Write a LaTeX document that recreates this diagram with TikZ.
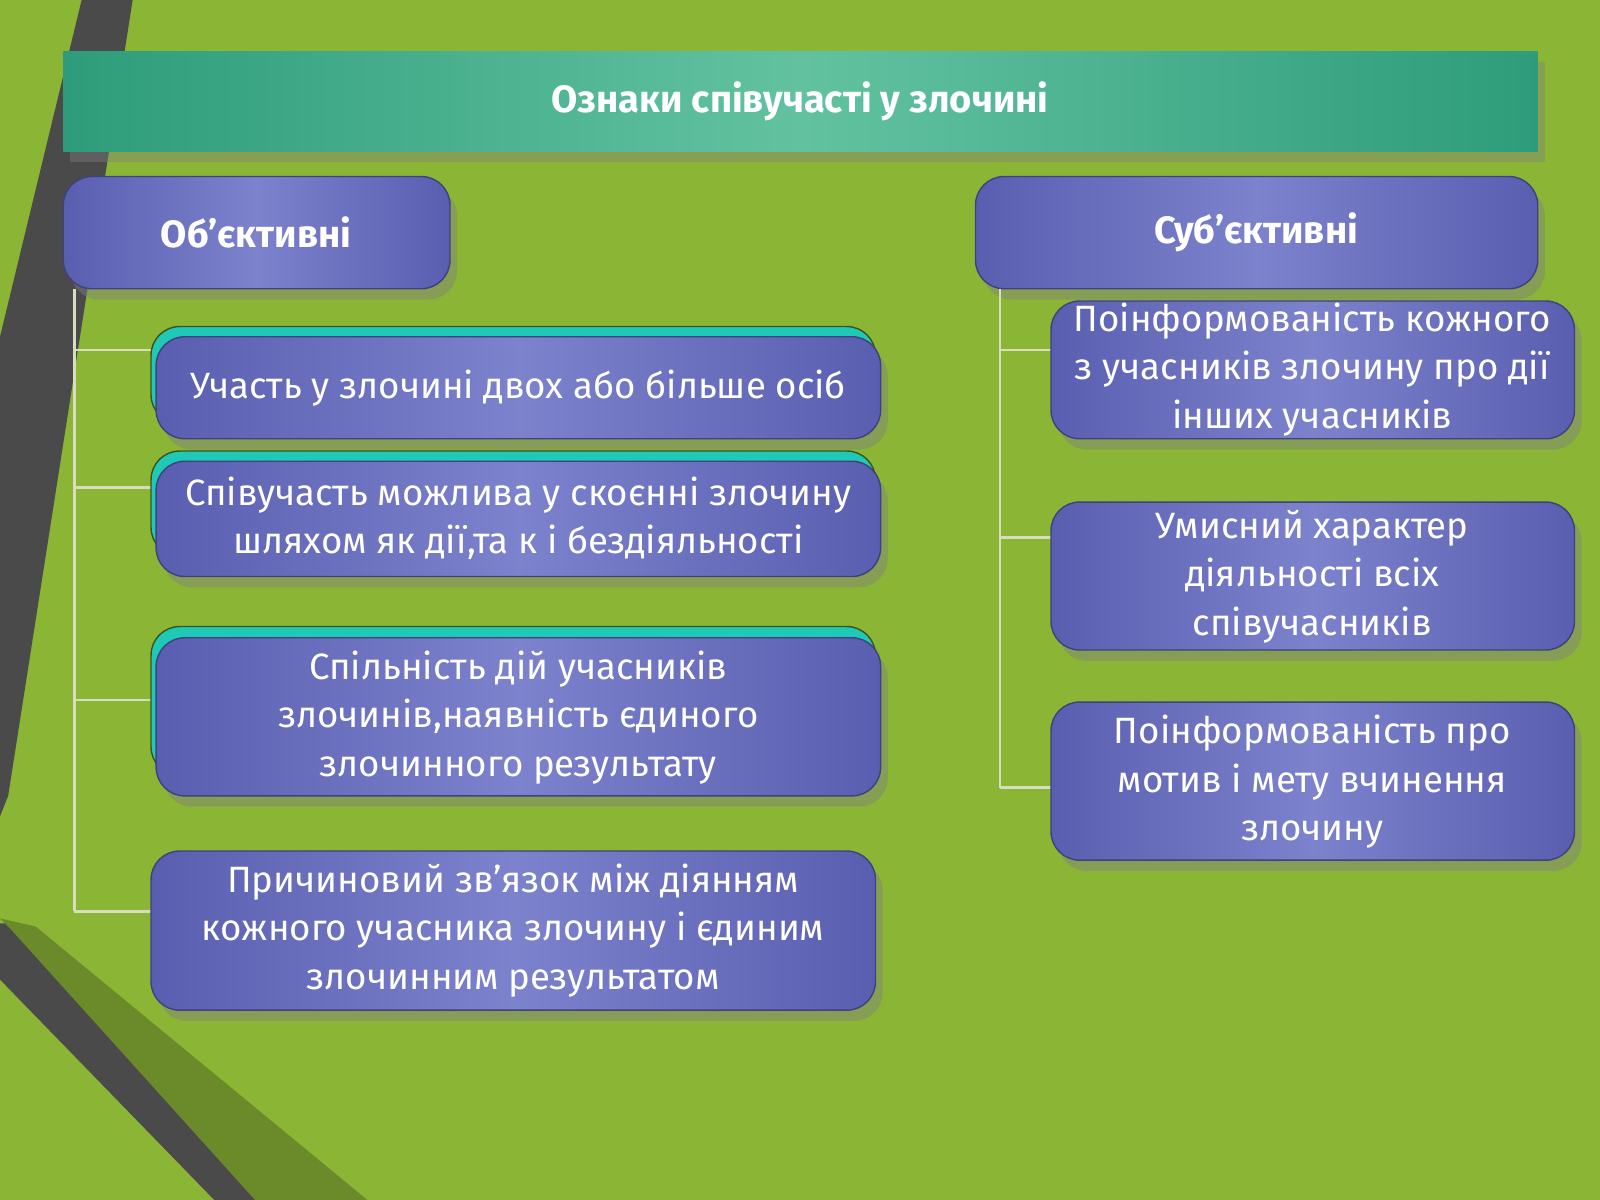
\documentclass[tikz,border=0pt]{standalone}
\usepackage{fontspec}
\setmainfont{Fira Sans}
\usetikzlibrary{shadows}
\definecolor{bg}{HTML}{8BB535}
\definecolor{stripe}{HTML}{4A4A4A}
\definecolor{olive}{HTML}{6B8A2A}
\definecolor{tealA}{HTML}{2E9C7A}
\definecolor{tealB}{HTML}{62C2A0}
\definecolor{purA}{HTML}{5A5EB0}
\definecolor{purB}{HTML}{7C82CC}
\definecolor{cyanb}{HTML}{1FC9B8}
\definecolor{conn}{HTML}{D8DCC0}
\tikzset{
 pbox/.style={rounded corners=8pt, left color=purA, right color=purA, middle color=purB, draw=purA!70!black, line width=0.4pt,
   drop shadow={shadow xshift=2pt,shadow yshift=-3pt,opacity=0.45}},
 tback/.style={rounded corners=8pt, fill=cyanb, draw=olive!60!black, line width=0.4pt},
 txt/.style={text=white, align=center, font=\fontsize{10.2}{13.5}\selectfont},
 hd/.style={text=white, font=\bfseries\fontsize{10.6}{13}\selectfont},
 cn/.style={draw=conn, line width=0.8pt}
}
\begin{document}
\begin{tikzpicture}[x=0.01cm,y=-0.01cm]
\fill[bg] (0,0) rectangle (1568,1176);
\useasboundingbox (0,0) rectangle (1568,1176);
\fill[stripe] (80,0) -- (130,0) -- (8,780) -- (0,800) -- (0,330) -- cycle;
\fill[stripe] (0,905) -- (20,905) -- (260,1176) -- (210,1176) -- (0,960) -- cycle;
\fill[olive] (0,900) -- (35,908) -- (360,1176) -- (250,1176) -- (10,910) -- cycle;
% title
\path[left color=tealA, right color=tealA, middle color=tealB, drop shadow={shadow xshift=2pt,shadow yshift=-3pt,opacity=0.4}] (62,50) rectangle (1507,148);
\node[hd] (title) at (784,99) {Ознаки співучасті у злочині};
% headers
\path[pbox] (62,173) rectangle (441,283);
\node[hd] (obj) at (251,228) {Об\symbol{39}єктивні};
\path[pbox] (956,173) rectangle (1507,283);
\node[hd] (sub) at (1231,228) {Суб\symbol{39}єктивні};
% connectors
\coordinate (lt) at (73,283); \coordinate (lb) at (73,893);
\draw[cn] (lt) -- (lb);
\foreach \y in {343,478,686,893} \draw[cn] (73,\y) -- (148,\y);
\coordinate (rt) at (980,283); \coordinate (rb) at (980,772);
\draw[cn] (rt) -- (rb);
\foreach \y in {343,527,772} \draw[cn] (980,\y) -- (1030,\y);
% left items
\path[tback] (148,320) rectangle (858,415);
\path[pbox] (153,330) rectangle (863,430);
\node[txt] (l1) at (508,380) {Участь у злочині двох або більше осіб};
\path[tback] (148,442) rectangle (858,545);
\path[pbox] (153,452) rectangle (863,565);
\node[txt] (l2) at (508,508) {Співучасть можлива у скоєнні злочину\\шляхом як дії,та к і бездіяльності};
\path[tback] (148,614) rectangle (858,760);
\path[pbox] (153,625) rectangle (863,780);
\node[txt] (l3) at (508,703) {Спільність дій учасників\\злочинів,наявність єдиного\\злочинного результату};
\path[pbox] (148,834) rectangle (858,990);
\node[txt] (l4) at (503,912) {Причиновий зв’язок між діянням\\кожного учасника злочину і єдиним\\злочинним результатом};
% right items
\path[pbox] (1030,295) rectangle (1543,430);
\node[txt] (r1) at (1286,362) {Поінформованість кожного\\з учасників злочину про дії\\інших учасників};
\path[pbox] (1030,492) rectangle (1543,637);
\node[txt] (r2) at (1286,565) {Умисний характер\\діяльності всіх\\співучасників};
\path[pbox] (1030,688) rectangle (1543,843);
\node[txt] (r3) at (1286,766) {Поінформованість про\\мотив і мету вчинення\\злочину};
\end{tikzpicture}
\end{document}
